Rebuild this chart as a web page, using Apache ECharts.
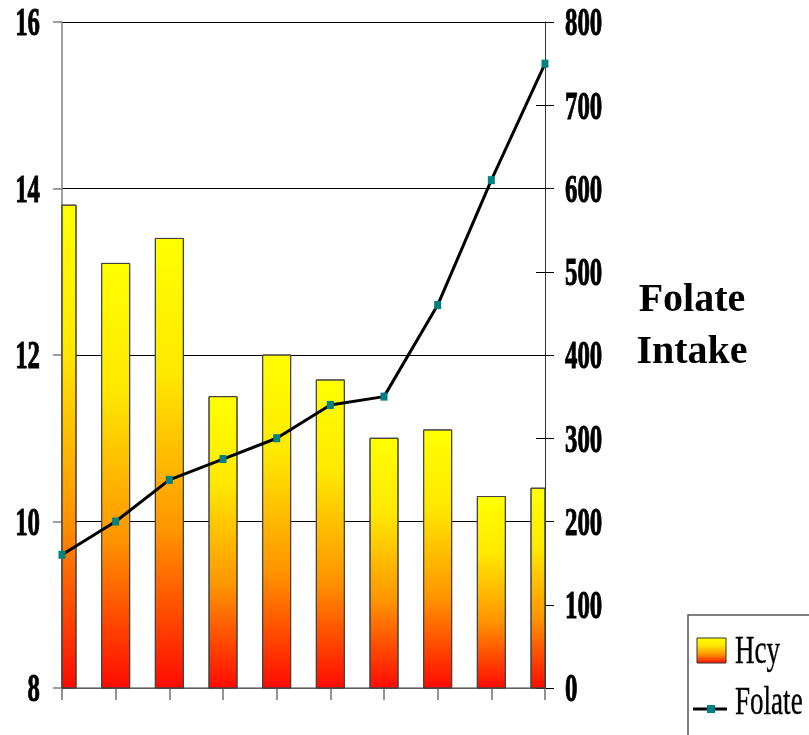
<!DOCTYPE html>
<html>
<head>
<meta charset="utf-8">
<script src="https://cdn.jsdelivr.net/npm/echarts@6/dist/echarts.min.js"></script>
<style>
  html, body { margin: 0; padding: 0; background: #ffffff; }
  #chart { width: 809px; height: 735px; }
</style>
</head>
<body>
<div id="chart"></div>
<script>
// Study groups along the x axis (unlabelled)
const groups = ['1', '2', '3', '4', '5', '6', '7', '8', '9', '10'];
// Plasma homocysteine per group (left axis)
const hcy = [13.8, 13.1, 13.4, 11.5, 12.0, 11.7, 11.0, 11.1, 10.3, 10.4];
// Folate intake per group (right axis)
const folate = [160, 200, 250, 275, 300, 340, 350, 460, 610, 750];
// Tick labels
const hcyTicks = [8, 10, 12, 14, 16];
const folateTicks = [0, 100, 200, 300, 400, 500, 600, 700, 800];
const axisTitle = ['Folate', 'Intake'];
const legendNames = ['Hcy', 'Folate'];

const HCY_MIN = 8;
const BAR_WIDTH = 28;
const SERIF = '"Liberation Serif", "Times New Roman", serif';
const NARROW = 0.62; // horizontal squeeze of the tall tick / legend lettering

const barGradient = () => new echarts.graphic.LinearGradient(0, 0, 0, 1, [
  { offset: 0, color: '#FFFF00' },
  { offset: 0.3, color: '#FFE800' },
  { offset: 0.65, color: '#FF9400' },
  { offset: 1, color: '#FF0A00' }
]);

// Bars centred on the category ticks, cut off at the plot edges
function renderBar(params, api) {
  const idx = api.value(0);
  const top = api.coord([idx, api.value(1)]);
  const base = api.coord([idx, HCY_MIN]);
  const cs = params.coordSys;
  const rect = echarts.graphic.clipRectByRect(
    { x: top[0] - BAR_WIDTH / 2, y: top[1], width: BAR_WIDTH, height: base[1] - top[1] },
    { x: cs.x, y: cs.y, width: cs.width, height: cs.height }
  );
  if (!rect) return null;
  return {
    type: 'rect',
    shape: rect,
    style: { fill: barGradient(), stroke: '#404040', lineWidth: 1 }
  };
}

const chart = echarts.init(document.getElementById('chart'), null, { renderer: 'canvas' });

chart.setOption({
  animation: false,
  backgroundColor: '#ffffff',
  grid: { left: 62, right: 264, top: 22, bottom: 47, containLabel: false },
  xAxis: {
    type: 'category',
    data: groups,
    boundaryGap: false,
    axisLine: { show: true, lineStyle: { color: '#808080', width: 1.5 } },
    axisTick: { show: true, length: 12, lineStyle: { color: '#707070', width: 1.5 } },
    axisLabel: { show: false },
    splitLine: { show: false }
  },
  yAxis: [
    {
      type: 'value', position: 'left', min: 8, max: 16, interval: 2,
      axisLine: { show: true, lineStyle: { color: '#808080', width: 1.5 } },
      axisTick: { show: true, length: 9, lineStyle: { color: '#808080', width: 1.5 } },
      axisLabel: { show: false },
      splitLine: { show: true, lineStyle: { color: '#000000', width: 1 } }
    },
    {
      type: 'value', position: 'right', min: 0, max: 800, interval: 100,
      axisLine: { show: true, onZero: false, lineStyle: { color: '#333333', width: 1 } },
      axisTick: { show: true, length: 9, lineStyle: { color: '#000000', width: 1 } },
      axisLabel: { show: false },
      splitLine: { show: false }
    },
    {
      // inner half of the crossing ticks on the right axis
      type: 'value', position: 'right', min: 0, max: 800, interval: 100,
      axisLine: { show: false },
      axisTick: { show: true, inside: true, length: 9, lineStyle: { color: '#000000', width: 1 } },
      axisLabel: { show: false },
      splitLine: { show: false }
    }
  ],
  series: [
    {
      name: legendNames[0],
      type: 'custom',
      yAxisIndex: 0,
      data: hcy.map((v, i) => [i, v]),
      encode: { x: 0, y: 1 },
      renderItem: renderBar,
      z: 2
    },
    {
      name: legendNames[1],
      type: 'line',
      yAxisIndex: 1,
      data: folate,
      symbol: 'rect',
      symbolSize: [7, 8],
      showSymbol: true,
      clip: false,
      lineStyle: { color: '#000000', width: 3 },
      itemStyle: { color: '#008080' },
      z: 5
    }
  ]
});

// Tick labels, axis title and legend, positioned from the axes' own scales
const graphics = [];
const tickText = (x, y, text, align) => ({
  type: 'text',
  x: x, y: y,
  scaleX: NARROW,
  silent: true,
  style: {
    text: text, x: 0, y: 0,
    fontFamily: SERIF, fontWeight: 'bold', fontSize: 40,
    fill: '#000000', stroke: '#000000', lineWidth: 1,
    align: align, verticalAlign: 'middle'
  }
});

hcyTicks.forEach(v => {
  const y = chart.convertToPixel({ yAxisIndex: 0 }, v);
  graphics.push(tickText(40, y + 3, String(v), 'right'));
});
folateTicks.forEach(v => {
  const y = chart.convertToPixel({ yAxisIndex: 1 }, v);
  graphics.push(tickText(565, y + 3, String(v), 'left'));
});

axisTitle.forEach((line, i) => {
  graphics.push({
    type: 'text', x: 692, y: 301 + i * 52, silent: true,
    style: {
      text: line, x: 0, y: 0,
      fontFamily: SERIF, fontWeight: 'bold', fontSize: 40,
      fill: '#000000', align: 'center', verticalAlign: 'middle'
    }
  });
});

// Legend box
graphics.push({
  type: 'rect', silent: true,
  shape: { x: 688, y: 615, width: 140, height: 140 },
  style: { fill: '#ffffff', stroke: '#555555', lineWidth: 1.5 }
});
graphics.push({
  type: 'rect', silent: true,
  shape: { x: 697, y: 638, width: 29, height: 25 },
  style: { fill: barGradient(), stroke: '#333333', lineWidth: 1 }
});
graphics.push({
  type: 'line', silent: true,
  shape: { x1: 693, y1: 709, x2: 727, y2: 709 },
  style: { stroke: '#000000', lineWidth: 3 }
});
graphics.push({
  type: 'rect', silent: true,
  shape: { x: 707, y: 705, width: 8, height: 8 },
  style: { fill: '#008080' }
});
legendNames.forEach((name, i) => {
  graphics.push({
    type: 'text', x: 735, y: 652 + i * 51, scaleX: 0.66, silent: true,
    style: {
      text: name, x: 0, y: 0,
      fontFamily: SERIF, fontWeight: 'normal', fontSize: 41,
      fill: '#000000', stroke: '#000000', lineWidth: 0.4,
      align: 'left', verticalAlign: 'middle'
    }
  });
});

chart.setOption({ graphic: graphics });
</script>
</body>
</html>
